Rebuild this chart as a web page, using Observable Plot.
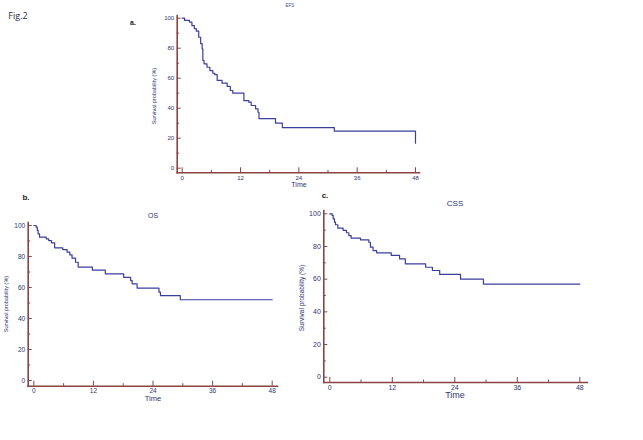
<!DOCTYPE html>
<html>
<head>
<meta charset="utf-8">
<script src="https://cdn.jsdelivr.net/npm/d3@7"></script>
<script src="https://cdn.jsdelivr.net/npm/@observablehq/plot@0.6"></script>
<style>
  html, body { margin: 0; padding: 0; background: #fff; }
  #root { position: relative; width: 643px; height: 440px; overflow: hidden; font-family: "Liberation Sans", Arial, sans-serif; }
  #root svg { position: absolute; left: 0; top: 0; background: transparent; }
  .t { position: absolute; white-space: nowrap; color: #2c3570; line-height: 1; }
  .rot { transform: translate(-50%, -50%) rotate(-90deg); }
  .ctr { transform: translate(-50%, -50%); }
</style>
</head>
<body>
<div id="root"></div>
<script>
// ---- data (months, survival %) ----
const xTicks = [0, 12, 24, 36, 48];
const xMinor = [6, 18, 30, 42];
const yTicks = [0, 20, 40, 60, 80, 100];
const yMinor = [10, 30, 50, 70, 90];

const aTitle = "EFS";
const aTime = [0, 0.5, 1.5, 2.0, 2.5, 2.9, 3.4, 3.8, 4.1, 4.25, 4.5, 5.1, 5.7, 6.3, 6.7, 7.2, 8.2, 9.25, 9.9, 10.4, 12.7, 13.7, 14.2, 15.1, 15.6, 15.8, 19.2, 20.6, 31.3, 48];
const aSurv = [100, 98.5, 97.4, 95, 93, 91.4, 87.3, 83, 79.6, 71.8, 69.6, 67.3, 65.1, 63.3, 62.4, 58.5, 56.7, 54.5, 51.8, 50, 45, 44, 41.8, 39.6, 37.3, 33, 30, 27, 24.7, 16.7];

const bTitle = "OS";
const bTime = [0, 0.47, 0.7, 0.87, 1.15, 2.5, 3.0, 3.56, 4.2, 5.84, 6.7, 7.25, 7.7, 8.4, 8.94, 11.8, 14.4, 18.1, 19.5, 19.8, 20.8, 25.2, 25.5, 29.5, 48];
const bSurv = [100, 98.9, 96.8, 94.6, 92.5, 91.4, 90.3, 88.8, 85.6, 84.5, 82.8, 81.1, 78.9, 76.3, 73.1, 71.2, 68.8, 66.5, 64.5, 62.4, 59.6, 57, 54.8, 52.1, 52.1];

const cTitle = "CSS";
const cTime = [0, 0.45, 0.65, 0.9, 1.1, 1.55, 2.56, 3.2, 3.65, 4.1, 5.9, 7.5, 7.8, 8.3, 9.0, 11.8, 13.4, 14.5, 18.4, 19.7, 21.1, 25.1, 29.5, 48];
const cSurv = [100, 99, 96.9, 94.9, 93.3, 91.2, 89.8, 88.4, 86.7, 85.1, 84.1, 82.6, 79.6, 77.5, 76.1, 74.5, 72.4, 69.4, 67.3, 65.3, 62.9, 60, 57, 57];

const axisColor = "#8c4343";
const lineColor = "#3b3f9c";
const labelColor = "#2c3570";

const root = document.getElementById("root");

function panel(time, surv, g) {
  const data = time.map((t, i) => ({t, s: surv[i]}));
  const W = 643, H = 440;
  const svg = Plot.plot({
    width: W, height: H,
    marginLeft: g.left, marginRight: W - g.right, marginTop: g.top, marginBottom: H - g.bottom,
    style: {background: "transparent", fontFamily: "Liberation Sans, Arial, sans-serif"},
    x: {domain: [0, 48], insetLeft: g.il, insetRight: g.ir},
    y: {domain: [0, 100], insetTop: g.it, insetBottom: g.ib},
    marks: [
      Plot.axisY({ticks: yMinor, tickSize: -2.5, tickFormat: () => "", stroke: axisColor, label: null}),
      Plot.axisX({ticks: xMinor, tickSize: -2.5, tickFormat: () => "", stroke: axisColor, label: null}),
      Plot.axisY({ticks: yTicks, tickSize: -4, tickPadding: 7, stroke: axisColor, fill: labelColor, fontSize: g.fs, label: null}),
      Plot.axisX({ticks: xTicks, tickSize: -5, tickPadding: 7.5, stroke: axisColor, fill: labelColor, fontSize: g.fs, label: null}),
      Plot.line(data, {x: "t", y: "s", curve: "step-after", stroke: lineColor, strokeWidth: 1.2}),
      Plot.frame({anchor: "left", stroke: axisColor, strokeWidth: 1.6}),
      Plot.frame({anchor: "bottom", stroke: axisColor, strokeWidth: 1.6})
    ]
  });
  root.appendChild(svg);
}

panel(aTime, aSurv, {left: 176.7, right: 419, top: 15, bottom: 172.3, il: 5, ir: 4, it: 2.7, ib: 4.6, fs: 6});
panel(bTime, bSurv, {left: 27.7, right: 277, top: 222, bottom: 385.7, il: 5.6, ir: 5.3, it: 3, ib: 5.7, fs: 6.5});
panel(cTime, cSurv, {left: 323.3, right: 586.7, top: 210, bottom: 382, il: 6, ir: 7.4, it: 3.3, ib: 5.3, fs: 7});

function text(str, x, y, size, cls, extra) {
  const d = document.createElement("div");
  d.className = "t " + (cls || "");
  d.textContent = str;
  d.style.left = x + "px";
  d.style.top = y + "px";
  d.style.fontSize = size + "px";
  if (extra) Object.assign(d.style, extra);
  root.appendChild(d);
}

text("Fig.2", 18, 15, 9, "ctr", {color: "#1f2a44", fontFamily: "Open Sans, sans-serif"});
text("a.", 133, 22, 7, "ctr", {color: "#222", fontWeight: "bold"});
text("b.", 26, 198, 8, "ctr", {color: "#222", fontWeight: "bold"});
text("c.", 325, 196, 8, "ctr", {color: "#222", fontWeight: "bold"});

text(aTitle, 290, 6, 4.5, "ctr", {color: "#3a4aa0"});
text(bTitle, 153, 215, 7, "ctr", {color: labelColor});
text(cTitle, 455, 204, 8, "ctr", {color: labelColor});

text("Time", 299, 184, 7, "ctr", {color: labelColor});
text("Time", 153, 399, 7.5, "ctr", {color: labelColor});
text("Time", 455, 395, 9, "ctr", {color: labelColor});

text("Survival probability (%)", 155, 96, 5.5, "rot", {color: labelColor});
text("Survival probability (%)", 7, 304, 5.5, "rot", {color: labelColor});
text("Survival probability (%)", 302, 298, 6.5, "rot", {color: labelColor});
</script>
</body>
